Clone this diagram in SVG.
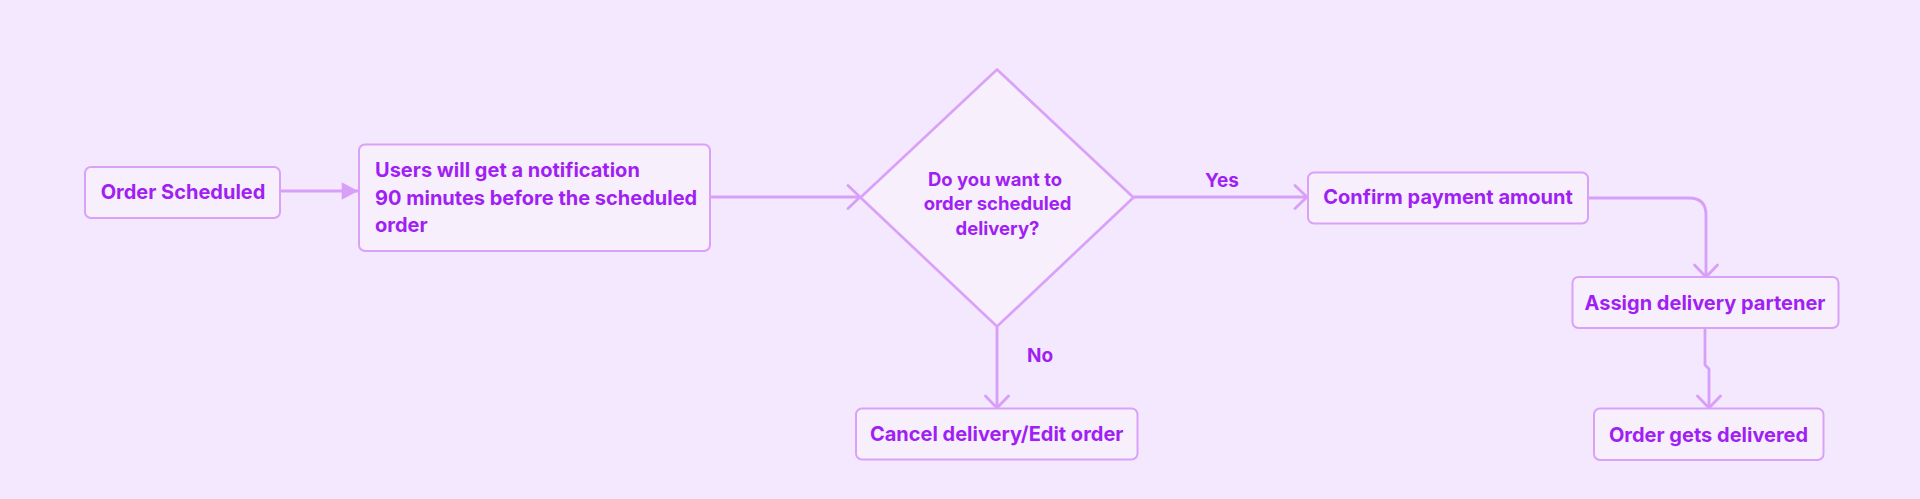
<svg xmlns="http://www.w3.org/2000/svg" width="1920" height="499" viewBox="0 0 1920 499">
<style>
.bg{fill:#f3e8fe}
.box{fill:#f8effd;stroke:#d9a2f8;stroke-width:2}
.dia{stroke-width:2.7}
.t{font-family:Inter,"Noto Sans",sans-serif;font-weight:700;font-size:20px;fill:#a01ff2}
.d{font-size:18.5px}
.l{font-size:19px}
.c{text-anchor:middle}
.ln{fill:none;stroke:#d89ff8;stroke-width:2.8;stroke-linejoin:round}
</style>
<defs>
<marker id="chev" markerUnits="userSpaceOnUse" markerWidth="30" markerHeight="30" viewBox="-15 -15 30 30" refX="0" refY="0" orient="auto">
<path d="M-12,-11.5 L0,0 L-12,11.5" fill="none" stroke="#d89ff8" stroke-width="2.8" stroke-linecap="round" stroke-linejoin="round"/>
</marker>
<marker id="tri" markerUnits="userSpaceOnUse" markerWidth="20" markerHeight="20" viewBox="-14 -8 16 16" refX="0" refY="0" orient="auto">
<path d="M-13,-7 L0,0 L-13,7 Z" fill="#d89ff8"/>
</marker>
</defs>
<rect class="bg" x="0" y="0" width="1920" height="499"/>
<g id="connectors">
<path class="ln" d="M280,191 H358" marker-end="url(#tri)"/>
<path class="ln" d="M710,197 H860" marker-end="url(#chev)"/>
<path class="ln" d="M1134,197 H1307" marker-end="url(#chev)"/>
<path class="ln" d="M997,327 V408" marker-end="url(#chev)"/>
<path class="ln" d="M1588,198 H1689 Q1706,198 1706,215 V277" marker-end="url(#chev)"/>
<path class="ln" d="M1705,328 V365 L1709,369 V408" marker-end="url(#chev)"/>
<text class="t l c" x="1222" y="187">Yes</text>
<text class="t l c" x="1040" y="362">No</text>
</g>
<g id="order-scheduled">
<rect class="box" x="85" y="167" width="195" height="51" rx="6"/>
<text class="t c" x="183" y="199">Order Scheduled</text>
</g>
<g id="notification">
<rect class="box" x="359" y="144.5" width="351" height="106.5" rx="6"/>
<text class="t" x="375" y="177">Users will get a notification</text>
<text class="t" x="375" y="205">90 minutes before the scheduled</text>
<text class="t" x="375" y="232">order</text>
</g>
<g id="decision">
<path class="box dia" d="M997,69.5 L1133.5,197.5 L997,326.5 L860.5,197.5 Z"/>
<text class="t d c" x="995" y="186">Do you want to</text>
<text class="t d c" x="997.5" y="210">order scheduled</text>
<text class="t d c" x="997.5" y="235">delivery?</text>
</g>
<g id="confirm-payment">
<rect class="box" x="1308" y="172.5" width="280" height="51" rx="6"/>
<text class="t c" x="1448" y="204">Confirm payment amount</text>
</g>
<g id="assign-partner">
<rect class="box" x="1572.5" y="277" width="266" height="51" rx="6"/>
<text class="t c" x="1705" y="310">Assign delivery partener</text>
</g>
<g id="order-delivered">
<rect class="box" x="1594" y="408.5" width="229.5" height="51.5" rx="6"/>
<text class="t c" x="1708.5" y="442">Order gets delivered</text>
</g>
<g id="cancel">
<rect class="box" x="856" y="408.5" width="281.5" height="51" rx="6"/>
<text class="t c" x="996.7" y="441">Cancel delivery/Edit order</text>
</g>
</svg>
